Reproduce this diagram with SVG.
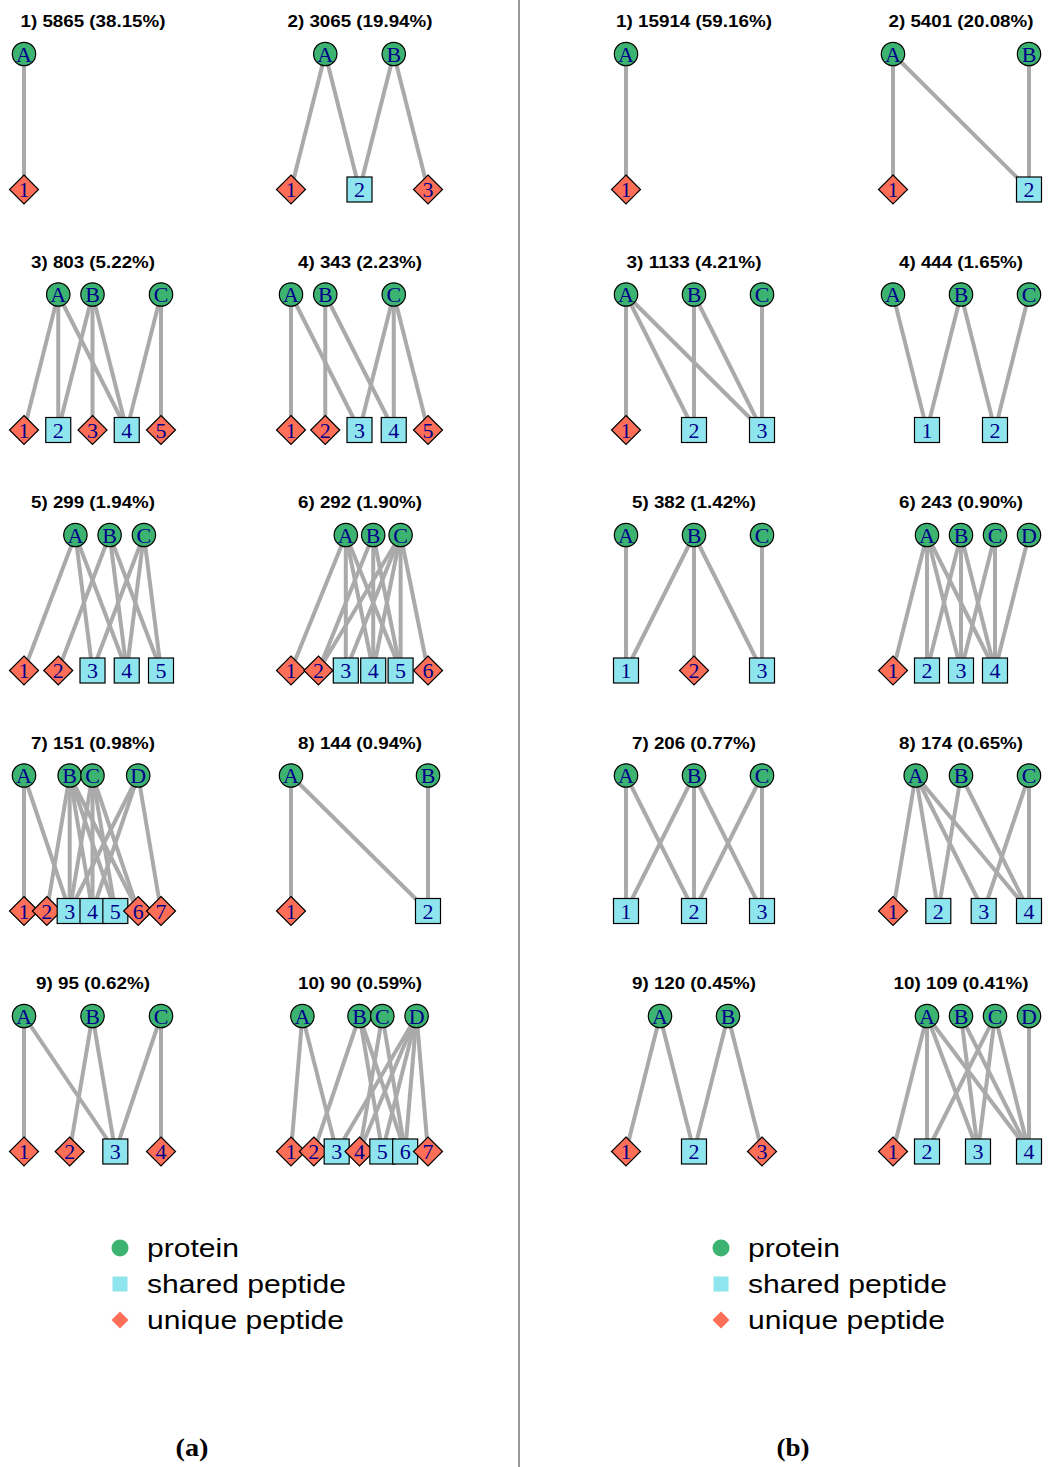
<svg xmlns="http://www.w3.org/2000/svg" xmlns:xlink="http://www.w3.org/1999/xlink" width="1051" height="1467" viewBox="0 0 1051 1467">
<style>
  .bg { fill: #ffffff; }
  #connectors line { stroke: #aaaaaa; stroke-width: 4; }
  .lbl { font-family: "Liberation Serif", "DejaVu Serif", serif; font-size: 22px; fill: #00008b; text-anchor: middle; }
  .ttl { font-family: "Liberation Sans", Arial, sans-serif; font-weight: bold; font-size: 17px; fill: #000; text-anchor: middle; }
  .leg { font-family: "Liberation Sans", Arial, sans-serif; font-size: 26px; fill: #000; }
  .cap { font-family: "Liberation Serif", "DejaVu Serif", serif; font-weight: bold; font-size: 25px; fill: #000; text-anchor: middle; }
</style>
<defs>
  <circle id="P" r="11.7" fill="#3cb371" stroke="#000" stroke-width="1.2"/>
  <rect id="S" x="-12.5" y="-12.5" width="25" height="25" fill="#8ee5ee" stroke="#000" stroke-width="1.2"/>
  <path id="U" d="M0,-14.5 L14.5,0 L0,14.5 L-14.5,0 Z" fill="#ff6f58" stroke="#000" stroke-width="1.2"/>
</defs>
<rect class="bg" x="0" y="0" width="1051" height="1467"/>
<line x1="519" y1="0" x2="519" y2="1467" stroke="#333" stroke-width="1"/>

<!-- panel titles -->
<g id="titles">
  <text class="ttl" x="93" y="27" textLength="145" lengthAdjust="spacingAndGlyphs">1) 5865 (38.15%)</text>
  <text class="ttl" x="360" y="27" textLength="145" lengthAdjust="spacingAndGlyphs">2) 3065 (19.94%)</text>
  <text class="ttl" x="93" y="267.5" textLength="124" lengthAdjust="spacingAndGlyphs">3) 803 (5.22%)</text>
  <text class="ttl" x="360" y="267.5" textLength="124" lengthAdjust="spacingAndGlyphs">4) 343 (2.23%)</text>
  <text class="ttl" x="93" y="508" textLength="124" lengthAdjust="spacingAndGlyphs">5) 299 (1.94%)</text>
  <text class="ttl" x="360" y="508" textLength="124" lengthAdjust="spacingAndGlyphs">6) 292 (1.90%)</text>
  <text class="ttl" x="93" y="748.5" textLength="124" lengthAdjust="spacingAndGlyphs">7) 151 (0.98%)</text>
  <text class="ttl" x="360" y="748.5" textLength="124" lengthAdjust="spacingAndGlyphs">8) 144 (0.94%)</text>
  <text class="ttl" x="93" y="989" textLength="114" lengthAdjust="spacingAndGlyphs">9) 95 (0.62%)</text>
  <text class="ttl" x="360" y="989" textLength="124" lengthAdjust="spacingAndGlyphs">10) 90 (0.59%)</text>
  <text class="ttl" x="694" y="27" textLength="156" lengthAdjust="spacingAndGlyphs">1) 15914 (59.16%)</text>
  <text class="ttl" x="961" y="27" textLength="145" lengthAdjust="spacingAndGlyphs">2) 5401 (20.08%)</text>
  <text class="ttl" x="694" y="267.5" textLength="135" lengthAdjust="spacingAndGlyphs">3) 1133 (4.21%)</text>
  <text class="ttl" x="961" y="267.5" textLength="124" lengthAdjust="spacingAndGlyphs">4) 444 (1.65%)</text>
  <text class="ttl" x="694" y="508" textLength="124" lengthAdjust="spacingAndGlyphs">5) 382 (1.42%)</text>
  <text class="ttl" x="961" y="508" textLength="124" lengthAdjust="spacingAndGlyphs">6) 243 (0.90%)</text>
  <text class="ttl" x="694" y="748.5" textLength="124" lengthAdjust="spacingAndGlyphs">7) 206 (0.77%)</text>
  <text class="ttl" x="961" y="748.5" textLength="124" lengthAdjust="spacingAndGlyphs">8) 174 (0.65%)</text>
  <text class="ttl" x="694" y="989" textLength="124" lengthAdjust="spacingAndGlyphs">9) 120 (0.45%)</text>
  <text class="ttl" x="961" y="989" textLength="135" lengthAdjust="spacingAndGlyphs">10) 109 (0.41%)</text>
</g>

<!-- protein-peptide edges, drawn under the nodes -->
<g id="connectors">
  <!-- a1 -->
  <line x1="24" y1="54" x2="24" y2="189.5"/>
  <!-- a2 -->
  <line x1="325.25" y1="54" x2="291" y2="189.5"/>
  <line x1="325.25" y1="54" x2="359.5" y2="189.5"/>
  <line x1="393.75" y1="54" x2="359.5" y2="189.5"/>
  <line x1="393.75" y1="54" x2="428" y2="189.5"/>
  <!-- a3 -->
  <line x1="58.25" y1="294.5" x2="24" y2="430"/>
  <line x1="58.25" y1="294.5" x2="58.25" y2="430"/>
  <line x1="58.25" y1="294.5" x2="126.75" y2="430"/>
  <line x1="92.5" y1="294.5" x2="58.25" y2="430"/>
  <line x1="92.5" y1="294.5" x2="92.5" y2="430"/>
  <line x1="92.5" y1="294.5" x2="126.75" y2="430"/>
  <line x1="161" y1="294.5" x2="126.75" y2="430"/>
  <line x1="161" y1="294.5" x2="161" y2="430"/>
  <!-- a4 -->
  <line x1="291" y1="294.5" x2="291" y2="430"/>
  <line x1="291" y1="294.5" x2="359.5" y2="430"/>
  <line x1="325.25" y1="294.5" x2="325.25" y2="430"/>
  <line x1="325.25" y1="294.5" x2="393.75" y2="430"/>
  <line x1="393.75" y1="294.5" x2="359.5" y2="430"/>
  <line x1="393.75" y1="294.5" x2="393.75" y2="430"/>
  <line x1="393.75" y1="294.5" x2="428" y2="430"/>
  <!-- a5 -->
  <line x1="75.4" y1="535" x2="24" y2="670.5"/>
  <line x1="75.4" y1="535" x2="92.5" y2="670.5"/>
  <line x1="75.4" y1="535" x2="126.75" y2="670.5"/>
  <line x1="109.6" y1="535" x2="58.25" y2="670.5"/>
  <line x1="109.6" y1="535" x2="126.75" y2="670.5"/>
  <line x1="109.6" y1="535" x2="161" y2="670.5"/>
  <line x1="143.9" y1="535" x2="92.5" y2="670.5"/>
  <line x1="143.9" y1="535" x2="126.75" y2="670.5"/>
  <line x1="143.9" y1="535" x2="161" y2="670.5"/>
  <!-- a6 -->
  <line x1="345.8" y1="535" x2="291" y2="670.5"/>
  <line x1="345.8" y1="535" x2="345.8" y2="670.5"/>
  <line x1="345.8" y1="535" x2="373.2" y2="670.5"/>
  <line x1="345.8" y1="535" x2="400.6" y2="670.5"/>
  <line x1="373.2" y1="535" x2="318.4" y2="670.5"/>
  <line x1="373.2" y1="535" x2="373.2" y2="670.5"/>
  <line x1="373.2" y1="535" x2="400.6" y2="670.5"/>
  <line x1="400.6" y1="535" x2="318.4" y2="670.5"/>
  <line x1="400.6" y1="535" x2="345.8" y2="670.5"/>
  <line x1="400.6" y1="535" x2="373.2" y2="670.5"/>
  <line x1="400.6" y1="535" x2="400.6" y2="670.5"/>
  <line x1="400.6" y1="535" x2="428" y2="670.5"/>
  <!-- a7 -->
  <line x1="24" y1="775.5" x2="24" y2="911"/>
  <line x1="24" y1="775.5" x2="69.67" y2="911"/>
  <line x1="69.67" y1="775.5" x2="46.83" y2="911"/>
  <line x1="69.67" y1="775.5" x2="69.67" y2="911"/>
  <line x1="69.67" y1="775.5" x2="92.5" y2="911"/>
  <line x1="69.67" y1="775.5" x2="115.33" y2="911"/>
  <line x1="69.67" y1="775.5" x2="138.17" y2="911"/>
  <line x1="92.5" y1="775.5" x2="69.67" y2="911"/>
  <line x1="92.5" y1="775.5" x2="92.5" y2="911"/>
  <line x1="92.5" y1="775.5" x2="115.33" y2="911"/>
  <line x1="92.5" y1="775.5" x2="138.17" y2="911"/>
  <line x1="138.17" y1="775.5" x2="69.67" y2="911"/>
  <line x1="138.17" y1="775.5" x2="92.5" y2="911"/>
  <line x1="138.17" y1="775.5" x2="161" y2="911"/>
  <!-- a8 -->
  <line x1="291" y1="775.5" x2="291" y2="911"/>
  <line x1="291" y1="775.5" x2="428" y2="911"/>
  <line x1="428" y1="775.5" x2="428" y2="911"/>
  <!-- a9 -->
  <line x1="24" y1="1016" x2="24" y2="1151.5"/>
  <line x1="24" y1="1016" x2="115.33" y2="1151.5"/>
  <line x1="92.5" y1="1016" x2="69.67" y2="1151.5"/>
  <line x1="92.5" y1="1016" x2="115.33" y2="1151.5"/>
  <line x1="161" y1="1016" x2="115.33" y2="1151.5"/>
  <line x1="161" y1="1016" x2="161" y2="1151.5"/>
  <!-- a10 -->
  <line x1="302.4" y1="1016" x2="291" y2="1151.5"/>
  <line x1="302.4" y1="1016" x2="336.67" y2="1151.5"/>
  <line x1="359.5" y1="1016" x2="313.83" y2="1151.5"/>
  <line x1="359.5" y1="1016" x2="382.33" y2="1151.5"/>
  <line x1="359.5" y1="1016" x2="405.17" y2="1151.5"/>
  <line x1="382.33" y1="1016" x2="359.5" y2="1151.5"/>
  <line x1="382.33" y1="1016" x2="405.17" y2="1151.5"/>
  <line x1="416.6" y1="1016" x2="336.67" y2="1151.5"/>
  <line x1="416.6" y1="1016" x2="359.5" y2="1151.5"/>
  <line x1="416.6" y1="1016" x2="382.33" y2="1151.5"/>
  <line x1="416.6" y1="1016" x2="405.17" y2="1151.5"/>
  <line x1="416.6" y1="1016" x2="428" y2="1151.5"/>
  <!-- b1 -->
  <line x1="626" y1="54" x2="626" y2="189.5"/>
  <!-- b2 -->
  <line x1="893" y1="54" x2="893" y2="189.5"/>
  <line x1="893" y1="54" x2="1029" y2="189.5"/>
  <line x1="1029" y1="54" x2="1029" y2="189.5"/>
  <!-- b3 -->
  <line x1="626" y1="294.5" x2="626" y2="430"/>
  <line x1="626" y1="294.5" x2="694" y2="430"/>
  <line x1="626" y1="294.5" x2="762" y2="430"/>
  <line x1="694" y1="294.5" x2="694" y2="430"/>
  <line x1="694" y1="294.5" x2="762" y2="430"/>
  <line x1="762" y1="294.5" x2="762" y2="430"/>
  <!-- b4 -->
  <line x1="893" y1="294.5" x2="927" y2="430"/>
  <line x1="961" y1="294.5" x2="927" y2="430"/>
  <line x1="961" y1="294.5" x2="995" y2="430"/>
  <line x1="1029" y1="294.5" x2="995" y2="430"/>
  <!-- b5 -->
  <line x1="626" y1="535" x2="626" y2="670.5"/>
  <line x1="694" y1="535" x2="626" y2="670.5"/>
  <line x1="694" y1="535" x2="694" y2="670.5"/>
  <line x1="694" y1="535" x2="762" y2="670.5"/>
  <line x1="762" y1="535" x2="762" y2="670.5"/>
  <!-- b6 -->
  <line x1="927" y1="535" x2="893" y2="670.5"/>
  <line x1="927" y1="535" x2="927" y2="670.5"/>
  <line x1="927" y1="535" x2="961" y2="670.5"/>
  <line x1="927" y1="535" x2="995" y2="670.5"/>
  <line x1="961" y1="535" x2="927" y2="670.5"/>
  <line x1="961" y1="535" x2="961" y2="670.5"/>
  <line x1="961" y1="535" x2="995" y2="670.5"/>
  <line x1="995" y1="535" x2="961" y2="670.5"/>
  <line x1="995" y1="535" x2="995" y2="670.5"/>
  <line x1="1029" y1="535" x2="995" y2="670.5"/>
  <!-- b7 -->
  <line x1="626" y1="775.5" x2="626" y2="911"/>
  <line x1="626" y1="775.5" x2="694" y2="911"/>
  <line x1="694" y1="775.5" x2="626" y2="911"/>
  <line x1="694" y1="775.5" x2="694" y2="911"/>
  <line x1="694" y1="775.5" x2="762" y2="911"/>
  <line x1="762" y1="775.5" x2="694" y2="911"/>
  <line x1="762" y1="775.5" x2="762" y2="911"/>
  <!-- b8 -->
  <line x1="915.7" y1="775.5" x2="893" y2="911"/>
  <line x1="915.7" y1="775.5" x2="938.3" y2="911"/>
  <line x1="915.7" y1="775.5" x2="983.7" y2="911"/>
  <line x1="915.7" y1="775.5" x2="1029" y2="911"/>
  <line x1="961" y1="775.5" x2="938.3" y2="911"/>
  <line x1="961" y1="775.5" x2="1029" y2="911"/>
  <line x1="1029" y1="775.5" x2="983.7" y2="911"/>
  <line x1="1029" y1="775.5" x2="1029" y2="911"/>
  <!-- b9 -->
  <line x1="660" y1="1016" x2="626" y2="1151.5"/>
  <line x1="660" y1="1016" x2="694" y2="1151.5"/>
  <line x1="728" y1="1016" x2="694" y2="1151.5"/>
  <line x1="728" y1="1016" x2="762" y2="1151.5"/>
  <!-- b10 -->
  <line x1="927" y1="1016" x2="893" y2="1151.5"/>
  <line x1="927" y1="1016" x2="927" y2="1151.5"/>
  <line x1="927" y1="1016" x2="978" y2="1151.5"/>
  <line x1="927" y1="1016" x2="1029" y2="1151.5"/>
  <line x1="961" y1="1016" x2="978" y2="1151.5"/>
  <line x1="961" y1="1016" x2="1029" y2="1151.5"/>
  <line x1="995" y1="1016" x2="927" y2="1151.5"/>
  <line x1="995" y1="1016" x2="978" y2="1151.5"/>
  <line x1="995" y1="1016" x2="1029" y2="1151.5"/>
  <line x1="1029" y1="1016" x2="1029" y2="1151.5"/>
</g>

<!-- nodes: proteins (circles), shared peptides (squares), unique peptides (diamonds) -->
<g id="nodes">
  <!-- a1 -->
  <g id="a1-A"><use href="#P" x="24" y="54"/><text class="lbl" x="24" y="61.5">A</text></g>
  <g id="a1-1"><use href="#U" x="24" y="189.5"/><text class="lbl" x="24" y="197">1</text></g>
  <!-- a2 -->
  <g id="a2-A"><use href="#P" x="325.25" y="54"/><text class="lbl" x="325.25" y="61.5">A</text></g>
  <g id="a2-B"><use href="#P" x="393.75" y="54"/><text class="lbl" x="393.75" y="61.5">B</text></g>
  <g id="a2-1"><use href="#U" x="291" y="189.5"/><text class="lbl" x="291" y="197">1</text></g>
  <g id="a2-2"><use href="#S" x="359.5" y="189.5"/><text class="lbl" x="359.5" y="197">2</text></g>
  <g id="a2-3"><use href="#U" x="428" y="189.5"/><text class="lbl" x="428" y="197">3</text></g>
  <!-- a3 -->
  <g id="a3-A"><use href="#P" x="58.25" y="294.5"/><text class="lbl" x="58.25" y="302">A</text></g>
  <g id="a3-B"><use href="#P" x="92.5" y="294.5"/><text class="lbl" x="92.5" y="302">B</text></g>
  <g id="a3-C"><use href="#P" x="161" y="294.5"/><text class="lbl" x="161" y="302">C</text></g>
  <g id="a3-1"><use href="#U" x="24" y="430"/><text class="lbl" x="24" y="437.5">1</text></g>
  <g id="a3-2"><use href="#S" x="58.25" y="430"/><text class="lbl" x="58.25" y="437.5">2</text></g>
  <g id="a3-3"><use href="#U" x="92.5" y="430"/><text class="lbl" x="92.5" y="437.5">3</text></g>
  <g id="a3-4"><use href="#S" x="126.75" y="430"/><text class="lbl" x="126.75" y="437.5">4</text></g>
  <g id="a3-5"><use href="#U" x="161" y="430"/><text class="lbl" x="161" y="437.5">5</text></g>
  <!-- a4 -->
  <g id="a4-A"><use href="#P" x="291" y="294.5"/><text class="lbl" x="291" y="302">A</text></g>
  <g id="a4-B"><use href="#P" x="325.25" y="294.5"/><text class="lbl" x="325.25" y="302">B</text></g>
  <g id="a4-C"><use href="#P" x="393.75" y="294.5"/><text class="lbl" x="393.75" y="302">C</text></g>
  <g id="a4-1"><use href="#U" x="291" y="430"/><text class="lbl" x="291" y="437.5">1</text></g>
  <g id="a4-2"><use href="#U" x="325.25" y="430"/><text class="lbl" x="325.25" y="437.5">2</text></g>
  <g id="a4-3"><use href="#S" x="359.5" y="430"/><text class="lbl" x="359.5" y="437.5">3</text></g>
  <g id="a4-4"><use href="#S" x="393.75" y="430"/><text class="lbl" x="393.75" y="437.5">4</text></g>
  <g id="a4-5"><use href="#U" x="428" y="430"/><text class="lbl" x="428" y="437.5">5</text></g>
  <!-- a5 -->
  <g id="a5-A"><use href="#P" x="75.4" y="535"/><text class="lbl" x="75.4" y="542.5">A</text></g>
  <g id="a5-B"><use href="#P" x="109.6" y="535"/><text class="lbl" x="109.6" y="542.5">B</text></g>
  <g id="a5-C"><use href="#P" x="143.9" y="535"/><text class="lbl" x="143.9" y="542.5">C</text></g>
  <g id="a5-1"><use href="#U" x="24" y="670.5"/><text class="lbl" x="24" y="678">1</text></g>
  <g id="a5-2"><use href="#U" x="58.25" y="670.5"/><text class="lbl" x="58.25" y="678">2</text></g>
  <g id="a5-3"><use href="#S" x="92.5" y="670.5"/><text class="lbl" x="92.5" y="678">3</text></g>
  <g id="a5-4"><use href="#S" x="126.75" y="670.5"/><text class="lbl" x="126.75" y="678">4</text></g>
  <g id="a5-5"><use href="#S" x="161" y="670.5"/><text class="lbl" x="161" y="678">5</text></g>
  <!-- a6 -->
  <g id="a6-A"><use href="#P" x="345.8" y="535"/><text class="lbl" x="345.8" y="542.5">A</text></g>
  <g id="a6-B"><use href="#P" x="373.2" y="535"/><text class="lbl" x="373.2" y="542.5">B</text></g>
  <g id="a6-C"><use href="#P" x="400.6" y="535"/><text class="lbl" x="400.6" y="542.5">C</text></g>
  <g id="a6-1"><use href="#U" x="291" y="670.5"/><text class="lbl" x="291" y="678">1</text></g>
  <g id="a6-2"><use href="#U" x="318.4" y="670.5"/><text class="lbl" x="318.4" y="678">2</text></g>
  <g id="a6-3"><use href="#S" x="345.8" y="670.5"/><text class="lbl" x="345.8" y="678">3</text></g>
  <g id="a6-4"><use href="#S" x="373.2" y="670.5"/><text class="lbl" x="373.2" y="678">4</text></g>
  <g id="a6-5"><use href="#S" x="400.6" y="670.5"/><text class="lbl" x="400.6" y="678">5</text></g>
  <g id="a6-6"><use href="#U" x="428" y="670.5"/><text class="lbl" x="428" y="678">6</text></g>
  <!-- a7 -->
  <g id="a7-A"><use href="#P" x="24" y="775.5"/><text class="lbl" x="24" y="783">A</text></g>
  <g id="a7-B"><use href="#P" x="69.67" y="775.5"/><text class="lbl" x="69.67" y="783">B</text></g>
  <g id="a7-C"><use href="#P" x="92.5" y="775.5"/><text class="lbl" x="92.5" y="783">C</text></g>
  <g id="a7-D"><use href="#P" x="138.17" y="775.5"/><text class="lbl" x="138.17" y="783">D</text></g>
  <g id="a7-1"><use href="#U" x="24" y="911"/><text class="lbl" x="24" y="918.5">1</text></g>
  <g id="a7-2"><use href="#U" x="46.83" y="911"/><text class="lbl" x="46.83" y="918.5">2</text></g>
  <g id="a7-3"><use href="#S" x="69.67" y="911"/><text class="lbl" x="69.67" y="918.5">3</text></g>
  <g id="a7-4"><use href="#S" x="92.5" y="911"/><text class="lbl" x="92.5" y="918.5">4</text></g>
  <g id="a7-5"><use href="#S" x="115.33" y="911"/><text class="lbl" x="115.33" y="918.5">5</text></g>
  <g id="a7-6"><use href="#U" x="138.17" y="911"/><text class="lbl" x="138.17" y="918.5">6</text></g>
  <g id="a7-7"><use href="#U" x="161" y="911"/><text class="lbl" x="161" y="918.5">7</text></g>
  <!-- a8 -->
  <g id="a8-A"><use href="#P" x="291" y="775.5"/><text class="lbl" x="291" y="783">A</text></g>
  <g id="a8-B"><use href="#P" x="428" y="775.5"/><text class="lbl" x="428" y="783">B</text></g>
  <g id="a8-1"><use href="#U" x="291" y="911"/><text class="lbl" x="291" y="918.5">1</text></g>
  <g id="a8-2"><use href="#S" x="428" y="911"/><text class="lbl" x="428" y="918.5">2</text></g>
  <!-- a9 -->
  <g id="a9-A"><use href="#P" x="24" y="1016"/><text class="lbl" x="24" y="1023.5">A</text></g>
  <g id="a9-B"><use href="#P" x="92.5" y="1016"/><text class="lbl" x="92.5" y="1023.5">B</text></g>
  <g id="a9-C"><use href="#P" x="161" y="1016"/><text class="lbl" x="161" y="1023.5">C</text></g>
  <g id="a9-1"><use href="#U" x="24" y="1151.5"/><text class="lbl" x="24" y="1159">1</text></g>
  <g id="a9-2"><use href="#U" x="69.67" y="1151.5"/><text class="lbl" x="69.67" y="1159">2</text></g>
  <g id="a9-3"><use href="#S" x="115.33" y="1151.5"/><text class="lbl" x="115.33" y="1159">3</text></g>
  <g id="a9-4"><use href="#U" x="161" y="1151.5"/><text class="lbl" x="161" y="1159">4</text></g>
  <!-- a10 -->
  <g id="a10-A"><use href="#P" x="302.4" y="1016"/><text class="lbl" x="302.4" y="1023.5">A</text></g>
  <g id="a10-B"><use href="#P" x="359.5" y="1016"/><text class="lbl" x="359.5" y="1023.5">B</text></g>
  <g id="a10-C"><use href="#P" x="382.33" y="1016"/><text class="lbl" x="382.33" y="1023.5">C</text></g>
  <g id="a10-D"><use href="#P" x="416.6" y="1016"/><text class="lbl" x="416.6" y="1023.5">D</text></g>
  <g id="a10-1"><use href="#U" x="291" y="1151.5"/><text class="lbl" x="291" y="1159">1</text></g>
  <g id="a10-2"><use href="#U" x="313.83" y="1151.5"/><text class="lbl" x="313.83" y="1159">2</text></g>
  <g id="a10-3"><use href="#S" x="336.67" y="1151.5"/><text class="lbl" x="336.67" y="1159">3</text></g>
  <g id="a10-4"><use href="#U" x="359.5" y="1151.5"/><text class="lbl" x="359.5" y="1159">4</text></g>
  <g id="a10-5"><use href="#S" x="382.33" y="1151.5"/><text class="lbl" x="382.33" y="1159">5</text></g>
  <g id="a10-6"><use href="#S" x="405.17" y="1151.5"/><text class="lbl" x="405.17" y="1159">6</text></g>
  <g id="a10-7"><use href="#U" x="428" y="1151.5"/><text class="lbl" x="428" y="1159">7</text></g>

  <!-- b1 -->
  <g id="b1-A"><use href="#P" x="626" y="54"/><text class="lbl" x="626" y="61.5">A</text></g>
  <g id="b1-1"><use href="#U" x="626" y="189.5"/><text class="lbl" x="626" y="197">1</text></g>
  <!-- b2 -->
  <g id="b2-A"><use href="#P" x="893" y="54"/><text class="lbl" x="893" y="61.5">A</text></g>
  <g id="b2-B"><use href="#P" x="1029" y="54"/><text class="lbl" x="1029" y="61.5">B</text></g>
  <g id="b2-1"><use href="#U" x="893" y="189.5"/><text class="lbl" x="893" y="197">1</text></g>
  <g id="b2-2"><use href="#S" x="1029" y="189.5"/><text class="lbl" x="1029" y="197">2</text></g>
  <!-- b3 -->
  <g id="b3-A"><use href="#P" x="626" y="294.5"/><text class="lbl" x="626" y="302">A</text></g>
  <g id="b3-B"><use href="#P" x="694" y="294.5"/><text class="lbl" x="694" y="302">B</text></g>
  <g id="b3-C"><use href="#P" x="762" y="294.5"/><text class="lbl" x="762" y="302">C</text></g>
  <g id="b3-1"><use href="#U" x="626" y="430"/><text class="lbl" x="626" y="437.5">1</text></g>
  <g id="b3-2"><use href="#S" x="694" y="430"/><text class="lbl" x="694" y="437.5">2</text></g>
  <g id="b3-3"><use href="#S" x="762" y="430"/><text class="lbl" x="762" y="437.5">3</text></g>
  <!-- b4 -->
  <g id="b4-A"><use href="#P" x="893" y="294.5"/><text class="lbl" x="893" y="302">A</text></g>
  <g id="b4-B"><use href="#P" x="961" y="294.5"/><text class="lbl" x="961" y="302">B</text></g>
  <g id="b4-C"><use href="#P" x="1029" y="294.5"/><text class="lbl" x="1029" y="302">C</text></g>
  <g id="b4-1"><use href="#S" x="927" y="430"/><text class="lbl" x="927" y="437.5">1</text></g>
  <g id="b4-2"><use href="#S" x="995" y="430"/><text class="lbl" x="995" y="437.5">2</text></g>
  <!-- b5 -->
  <g id="b5-A"><use href="#P" x="626" y="535"/><text class="lbl" x="626" y="542.5">A</text></g>
  <g id="b5-B"><use href="#P" x="694" y="535"/><text class="lbl" x="694" y="542.5">B</text></g>
  <g id="b5-C"><use href="#P" x="762" y="535"/><text class="lbl" x="762" y="542.5">C</text></g>
  <g id="b5-1"><use href="#S" x="626" y="670.5"/><text class="lbl" x="626" y="678">1</text></g>
  <g id="b5-2"><use href="#U" x="694" y="670.5"/><text class="lbl" x="694" y="678">2</text></g>
  <g id="b5-3"><use href="#S" x="762" y="670.5"/><text class="lbl" x="762" y="678">3</text></g>
  <!-- b6 -->
  <g id="b6-A"><use href="#P" x="927" y="535"/><text class="lbl" x="927" y="542.5">A</text></g>
  <g id="b6-B"><use href="#P" x="961" y="535"/><text class="lbl" x="961" y="542.5">B</text></g>
  <g id="b6-C"><use href="#P" x="995" y="535"/><text class="lbl" x="995" y="542.5">C</text></g>
  <g id="b6-D"><use href="#P" x="1029" y="535"/><text class="lbl" x="1029" y="542.5">D</text></g>
  <g id="b6-1"><use href="#U" x="893" y="670.5"/><text class="lbl" x="893" y="678">1</text></g>
  <g id="b6-2"><use href="#S" x="927" y="670.5"/><text class="lbl" x="927" y="678">2</text></g>
  <g id="b6-3"><use href="#S" x="961" y="670.5"/><text class="lbl" x="961" y="678">3</text></g>
  <g id="b6-4"><use href="#S" x="995" y="670.5"/><text class="lbl" x="995" y="678">4</text></g>
  <!-- b7 -->
  <g id="b7-A"><use href="#P" x="626" y="775.5"/><text class="lbl" x="626" y="783">A</text></g>
  <g id="b7-B"><use href="#P" x="694" y="775.5"/><text class="lbl" x="694" y="783">B</text></g>
  <g id="b7-C"><use href="#P" x="762" y="775.5"/><text class="lbl" x="762" y="783">C</text></g>
  <g id="b7-1"><use href="#S" x="626" y="911"/><text class="lbl" x="626" y="918.5">1</text></g>
  <g id="b7-2"><use href="#S" x="694" y="911"/><text class="lbl" x="694" y="918.5">2</text></g>
  <g id="b7-3"><use href="#S" x="762" y="911"/><text class="lbl" x="762" y="918.5">3</text></g>
  <!-- b8 -->
  <g id="b8-A"><use href="#P" x="915.7" y="775.5"/><text class="lbl" x="915.7" y="783">A</text></g>
  <g id="b8-B"><use href="#P" x="961" y="775.5"/><text class="lbl" x="961" y="783">B</text></g>
  <g id="b8-C"><use href="#P" x="1029" y="775.5"/><text class="lbl" x="1029" y="783">C</text></g>
  <g id="b8-1"><use href="#U" x="893" y="911"/><text class="lbl" x="893" y="918.5">1</text></g>
  <g id="b8-2"><use href="#S" x="938.3" y="911"/><text class="lbl" x="938.3" y="918.5">2</text></g>
  <g id="b8-3"><use href="#S" x="983.7" y="911"/><text class="lbl" x="983.7" y="918.5">3</text></g>
  <g id="b8-4"><use href="#S" x="1029" y="911"/><text class="lbl" x="1029" y="918.5">4</text></g>
  <!-- b9 -->
  <g id="b9-A"><use href="#P" x="660" y="1016"/><text class="lbl" x="660" y="1023.5">A</text></g>
  <g id="b9-B"><use href="#P" x="728" y="1016"/><text class="lbl" x="728" y="1023.5">B</text></g>
  <g id="b9-1"><use href="#U" x="626" y="1151.5"/><text class="lbl" x="626" y="1159">1</text></g>
  <g id="b9-2"><use href="#S" x="694" y="1151.5"/><text class="lbl" x="694" y="1159">2</text></g>
  <g id="b9-3"><use href="#U" x="762" y="1151.5"/><text class="lbl" x="762" y="1159">3</text></g>
  <!-- b10 -->
  <g id="b10-A"><use href="#P" x="927" y="1016"/><text class="lbl" x="927" y="1023.5">A</text></g>
  <g id="b10-B"><use href="#P" x="961" y="1016"/><text class="lbl" x="961" y="1023.5">B</text></g>
  <g id="b10-C"><use href="#P" x="995" y="1016"/><text class="lbl" x="995" y="1023.5">C</text></g>
  <g id="b10-D"><use href="#P" x="1029" y="1016"/><text class="lbl" x="1029" y="1023.5">D</text></g>
  <g id="b10-1"><use href="#U" x="893" y="1151.5"/><text class="lbl" x="893" y="1159">1</text></g>
  <g id="b10-2"><use href="#S" x="927" y="1151.5"/><text class="lbl" x="927" y="1159">2</text></g>
  <g id="b10-3"><use href="#S" x="978" y="1151.5"/><text class="lbl" x="978" y="1159">3</text></g>
  <g id="b10-4"><use href="#S" x="1029" y="1151.5"/><text class="lbl" x="1029" y="1159">4</text></g>
</g>

<!-- legends -->
<g id="legend-a">
  <circle cx="120" cy="1248" r="8.5" fill="#3cb371"/>
  <rect x="112.5" y="1276.5" width="15" height="15" fill="#8ee5ee"/>
  <path d="M120,1311.5 L128.5,1320 L120,1328.5 L111.5,1320 Z" fill="#ff6f58"/>
  <text class="leg" x="147" y="1257" textLength="92" lengthAdjust="spacingAndGlyphs">protein</text>
  <text class="leg" x="147" y="1293" textLength="199" lengthAdjust="spacingAndGlyphs">shared peptide</text>
  <text class="leg" x="147" y="1329" textLength="197" lengthAdjust="spacingAndGlyphs">unique peptide</text>
</g>
<g id="legend-b">
  <circle cx="721" cy="1248" r="8.5" fill="#3cb371"/>
  <rect x="713.5" y="1276.5" width="15" height="15" fill="#8ee5ee"/>
  <path d="M721,1311.5 L729.5,1320 L721,1328.5 L712.5,1320 Z" fill="#ff6f58"/>
  <text class="leg" x="748" y="1257" textLength="92" lengthAdjust="spacingAndGlyphs">protein</text>
  <text class="leg" x="748" y="1293" textLength="199" lengthAdjust="spacingAndGlyphs">shared peptide</text>
  <text class="leg" x="748" y="1329" textLength="197" lengthAdjust="spacingAndGlyphs">unique peptide</text>
</g>

<!-- sub-figure captions -->
<text class="cap" x="192" y="1456" textLength="33" lengthAdjust="spacingAndGlyphs">(a)</text>
<text class="cap" x="793" y="1456" textLength="33" lengthAdjust="spacingAndGlyphs">(b)</text>
</svg>
